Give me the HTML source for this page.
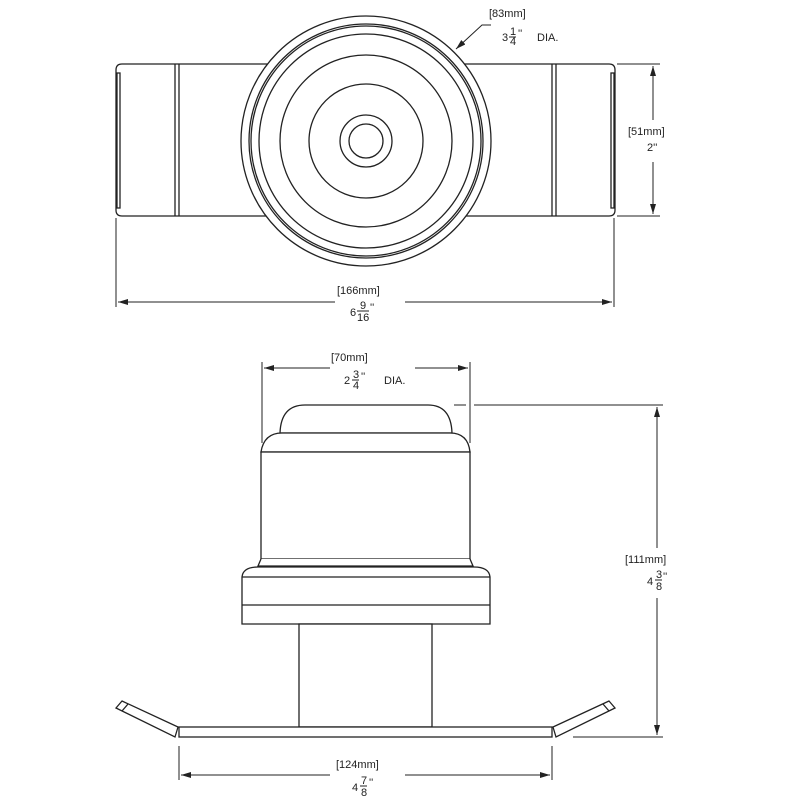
<!DOCTYPE html>
<html><head><meta charset="utf-8"><style>
html,body{margin:0;padding:0;background:#fff;}
svg{display:block;}
text{font-family:"Liberation Sans",sans-serif;fill:#222;font-size:11px;}
</style></head><body>
<svg width="800" height="800" viewBox="0 0 800 800" xmlns="http://www.w3.org/2000/svg">
<defs><marker id="a" viewBox="0 0 10 6" refX="10" refY="3" markerWidth="10" markerHeight="6" orient="auto-start-reverse" markerUnits="userSpaceOnUse"><path d="M0,0 L10,3 L0,6z" fill="#222"/></marker></defs>
<g fill="none" stroke="#222" stroke-width="1.3">
<path d="M122,64 L609,64 Q615,64 615,70 L615,210 Q615,216 609,216 L122,216 Q116,216 116,210 L116,70 Q116,64 122,64Z" fill="#fff"/>
<rect x="117" y="73" width="3" height="135"/>
<rect x="611" y="73" width="3" height="135"/>
<line x1="175" y1="64" x2="175" y2="216"/><line x1="179" y1="64" x2="179" y2="216"/>
<line x1="552" y1="64" x2="552" y2="216"/><line x1="556" y1="64" x2="556" y2="216"/>
<circle cx="366" cy="141" r="125" fill="#fff"/>
<circle cx="366" cy="141" r="117"/>
<circle cx="366" cy="141" r="115"/>
<circle cx="366" cy="141" r="107"/>
<circle cx="366" cy="141" r="86"/>
<circle cx="366" cy="141" r="57"/>
<circle cx="366" cy="141" r="26"/>
<circle cx="366" cy="141" r="17"/>
</g>
<g fill="none" stroke="#222" stroke-width="1">
<path d="M491,25 L482,25 L456,49" marker-end="url(#a)"/>
<line x1="617" y1="64" x2="660" y2="64"/><line x1="617" y1="216" x2="660" y2="216"/>
<line x1="653" y1="66" x2="653" y2="120" marker-start="url(#a)"/>
<line x1="653" y1="162" x2="653" y2="214" marker-end="url(#a)"/>
<line x1="116" y1="218" x2="116" y2="307"/><line x1="614" y1="218" x2="614" y2="307"/>
<line x1="118" y1="302" x2="335" y2="302" marker-start="url(#a)"/>
<line x1="405" y1="302" x2="612" y2="302" marker-end="url(#a)"/>
<line x1="262" y1="362" x2="262" y2="443"/><line x1="470" y1="362" x2="470" y2="443"/>
<line x1="264" y1="368" x2="330" y2="368" marker-start="url(#a)"/>
<line x1="415" y1="368" x2="468" y2="368" marker-end="url(#a)"/>
<line x1="454" y1="405" x2="466" y2="405"/><line x1="474" y1="405" x2="663" y2="405"/>
<line x1="573" y1="737" x2="663" y2="737"/>
<line x1="657" y1="407" x2="657" y2="548" marker-start="url(#a)"/>
<line x1="657" y1="598" x2="657" y2="735" marker-end="url(#a)"/>
<line x1="179" y1="746" x2="179" y2="780"/><line x1="552" y1="746" x2="552" y2="780"/>
<line x1="181" y1="775" x2="330" y2="775" marker-start="url(#a)"/>
<line x1="405" y1="775" x2="550" y2="775" marker-end="url(#a)"/>
</g>
<g fill="#fff" stroke="#222" stroke-width="1.3">
<path d="M280,433 Q281,405 305,405 L428,405 Q451,405 452,433Z"/>
<path d="M261,452 Q264,433 282,433 L450,433 Q468,433 470,452Z"/>
<rect x="261" y="452" width="209" height="107"/>
<path d="M261,559 L258,566 L473,566 L470,559"/>
<path d="M242,577 Q243,567 258,567 L474,567 Q489,567 490,577 L490,624 L242,624Z"/>
<line x1="242" y1="577" x2="490" y2="577"/>
<line x1="242" y1="605" x2="490" y2="605"/>
<rect x="299" y="624" width="133" height="103"/>
<rect x="179" y="727" width="373" height="10"/>
<polygon points="122,701 178,727 175,737 116,708"/>
<line x1="128" y1="704" x2="122" y2="711"/>
<polygon points="609,701 553,727 556,737 615,708"/>
<line x1="603" y1="704" x2="609" y2="711"/>
</g>
<g>
<text x="489" y="17">[83mm]</text>
<text x="502" y="41">3</text><text x="510" y="35" font-size="8">1</text><line x1="509" y1="37" x2="516" y2="37" stroke="#222"/><text x="510" y="45" font-size="8">4</text><text x="518" y="37" font-size="8">''</text><text x="537" y="41">DIA.</text>
<text x="628" y="135">[51mm]</text>
<text x="647" y="151">2''</text>
<text x="337" y="294">[166mm]</text>
<text x="350" y="316">6</text><text x="360" y="309" font-size="8">9</text><line x1="357" y1="311" x2="369" y2="311" stroke="#222"/><text x="357" y="321" font-size="8">16</text><text x="370" y="311" font-size="8">''</text>
<text x="331" y="361">[70mm]</text>
<text x="344" y="384">2</text><text x="353" y="378" font-size="8">3</text><line x1="352" y1="380" x2="359" y2="380" stroke="#222"/><text x="353" y="389" font-size="8">4</text><text x="361" y="380" font-size="8">''</text><text x="384" y="384">DIA.</text>
<text x="625" y="563">[111mm]</text>
<text x="647" y="585">4</text><text x="656" y="578" font-size="8">3</text><line x1="655" y1="580" x2="662" y2="580" stroke="#222"/><text x="656" y="590" font-size="8">8</text><text x="663" y="580" font-size="8">''</text>
<text x="336" y="768">[124mm]</text>
<text x="352" y="791">4</text><text x="361" y="784" font-size="8">7</text><line x1="360" y1="786" x2="367" y2="786" stroke="#222"/><text x="361" y="796" font-size="8">8</text><text x="369" y="786" font-size="8">''</text>
</g>
</svg>
</body></html>
